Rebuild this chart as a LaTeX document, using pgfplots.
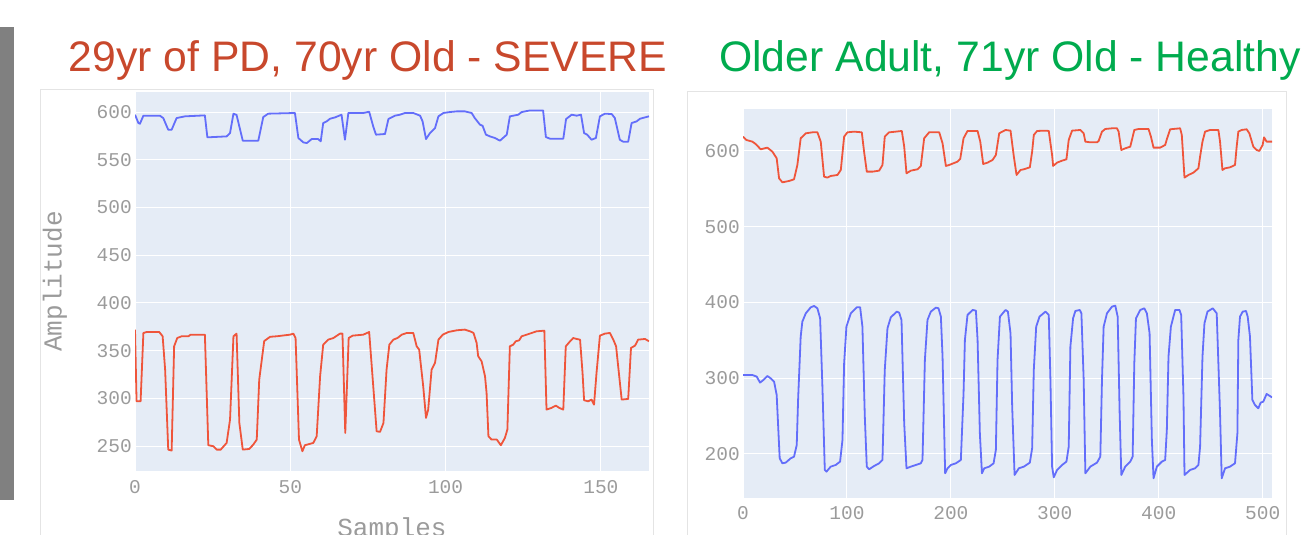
\documentclass[border=0pt]{standalone}
\usepackage{pgfplots}
\pgfplotsset{compat=1.18}
\usepackage{fontspec}
\setmainfont{Liberation Sans}
\newfontfamily\monofont{Liberation Mono}
\definecolor{plotbg}{HTML}{E5ECF6}
\definecolor{pblue}{HTML}{636EFA}
\definecolor{pred}{HTML}{EF553B}
\definecolor{tickgray}{RGB}{155,155,155}
\definecolor{paneledge}{RGB}{228,228,228}
\definecolor{titlered}{RGB}{200,72,44}
\definecolor{titlegreen}{RGB}{0,171,78}
\definecolor{barGray}{RGB}{128,128,128}
\pgfplotsset{
  plotlyaxis/.style={
    scale only axis,
    axis background/.style={fill=plotbg},
    axis line style={draw=none},
    tick style={draw=none},
    grid=major,
    major grid style={white, line width=1pt},
    /pgf/number format/assume math mode=true,
    /pgf/number format/1000 sep={},
    ticklabel style={font=\monofont\fontsize{19.5pt}{22pt}\selectfont, text=tickgray, inner sep=0pt},
    yticklabel style={anchor=east, xshift=-3pt},
    xticklabel style={anchor=north, yshift=-9pt},
    every axis plot/.append style={line width=1.8pt, line join=round},
  }
}
\begin{document}
\begin{tikzpicture}
\useasboundingbox (0pt,0pt) rectangle (1306pt,535pt);
% gray bar at the left edge
\fill[barGray] (0pt,35pt) rectangle (14pt,508pt);
% panel frames
\draw[paneledge, line width=1pt] (40pt,-10pt) rectangle (653pt,445pt);
\draw[paneledge, line width=1pt] (687pt,-10pt) rectangle (1286pt,443pt);
% titles
\node[anchor=base, text=titlered, font=\fontsize{42.7pt}{48pt}\selectfont, inner sep=0pt] at (368pt,463pt) {29yr of PD, 70yr Old - SEVERE};
\node[anchor=base, text=titlegreen, font=\fontsize{42.7pt}{48pt}\selectfont, inner sep=0pt] at (1010pt,463pt) {Older Adult, 71yr Old - Healthy};
% axis titles of the left chart
\node[rotate=90, text=tickgray, font=\monofont\fontsize{26pt}{28pt}\selectfont, inner sep=0pt] at (55pt,253.5pt) {Amplitude};
\node[anchor=base, text=tickgray, font=\monofont\fontsize{26pt}{28pt}\selectfont, inner sep=0pt] at (392pt,-1.5pt) {Samples};

% ---------- left chart ----------
\begin{axis}[plotlyaxis,
  at={(135pt,64pt)}, anchor=south west,
  width=514pt, height=379pt,
  xmin=0, xmax=165.5, ymin=224, ymax=621,
  xtick={0,50,100,150}, ytick={250,300,350,400,450,500,550,600},
]
\addplot[pblue] coordinates {
(0,597.2)(1.1,588.5)(1.6,587.8)(2.7,596.2)(8.0,596.2)(9.1,593.7)(10.7,581.5)(11.8,581.5)(13.4,593.7)(16.1,595.5)(22.5,596.5)(23.3,573.5)(29.5,574.5)(30.6,578)(31.7,598.3)(32.7,597)(34.7,570)(39.7,570)(41.3,594.8)(42.9,598.3)(51.5,599)(52.6,572.8)(54.2,568.2)(55.3,567.5)(56.9,571.7)(59.0,571.7)(59.8,569.3)(60.6,588.5)(61.7,590.2)(62.8,593)(64.4,594.4)(66.5,597.2)(67.6,571)(68.7,599)(73.5,599)(75.4,600.3)(76.7,585)(77.6,576.3)(80.5,577)(81.6,592.7)(83.7,596.2)(85.3,597.2)(86.9,599)(89.6,599)(91.8,596.2)(92.6,590.2)(93.7,571.7)(95.0,578)(96.6,583.2)(97.7,595.5)(99.3,599)(101.4,600)(103.6,600.7)(106.2,600.7)(108.4,599)(109.4,593.7)(111.1,586.7)(111.9,585.7)(113.0,576.3)(114.3,574.5)(115.9,572.8)(117.5,570)(119.7,576.3)(120.7,595.5)(123.4,597.2)(124.5,600)(127.2,601.7)(131.4,601.7)(132.3,573.8)(133.6,572.1)(137.9,572.1)(138.8,592.7)(140.6,597.2)(142.2,596.2)(143.6,597.2)(144.6,578)(145.6,576.3)(147.0,571)(148.4,572.8)(149.7,595.5)(151.3,598.3)(153.5,597.9)(154.5,593.7)(156.1,571)(157.2,568.9)(158.8,568.9)(159.9,588.5)(161.5,590.2)(162.6,593)(164.2,594.4)(165.5,595.5)
};
\addplot[pred] coordinates {
(0,372.1)(0.5,297)(1.8,297)(2.7,368.6)(3.8,369.6)(7.8,369.6)(8.9,365.1)(9.7,330.2)(10.7,246.4)(11.8,245.4)(12.6,354.6)(13.6,363.3)(15.0,365.1)(17.2,365.1)(17.9,366.8)(22.5,366.8)(23.6,251)(25.2,250)(26.3,246.4)(27.6,246.4)(29.5,253.4)(30.6,277.8)(31.7,365.1)(32.7,367.9)(33.6,274.3)(34.7,246.4)(36.8,247.1)(38.1,251.7)(39.2,256.9)(40.0,319.7)(41.6,360.1)(43.5,364.6)(45.6,365.1)(49.9,366.8)(51.0,367.9)(51.7,363.3)(52.8,256.9)(53.9,244.7)(54.7,251)(57.4,253.4)(58.5,260.4)(59.6,323.2)(60.6,356.4)(62.2,361.6)(63.9,363.3)(66.0,367.9)(66.8,367.9)(67.7,263.9)(68.8,363.3)(70.1,365.8)(73.5,366.8)(75.4,369.6)(77.8,265.6)(78.9,265)(80.0,274.3)(81.0,330.2)(81.9,356.4)(83.2,361.6)(84.5,363.3)(85.9,366.8)(87.5,368.6)(89.6,368.6)(90.7,354.6)(91.5,351.1)(92.8,312.7)(93.7,279.6)(94.4,288.3)(95.5,330.2)(96.6,337.2)(97.7,361.6)(99.1,366.8)(100.9,369.6)(103.6,371.4)(106.2,372.1)(107.9,370.3)(109.0,368.6)(110.0,358.1)(110.5,344.2)(111.6,338.9)(112.7,323.2)(113.2,305.8)(113.8,260.4)(114.8,256.9)(116.5,256.9)(117.8,251)(119.1,258.6)(119.9,267.4)(120.7,354.6)(121.8,356.4)(122.6,359.9)(123.7,360.9)(124.5,365.1)(126.1,366.8)(129.3,370.3)(131.8,371)(132.5,288.3)(134.1,290.1)(135.5,292.5)(136.6,290.1)(137.9,288.3)(138.7,354.6)(140.1,359.9)(141.1,363.3)(142.2,362.3)(143.3,361.6)(144.1,326.7)(144.6,298.1)(145.9,297)(147.0,298.8)(147.8,293.5)(148.6,326.7)(149.7,365.8)(151.3,367.9)(152.9,368.6)(154.0,361.6)(154.9,354.6)(156.7,298.8)(158.8,299.5)(159.7,352.9)(161.0,355.3)(162.0,361.6)(164.2,362.3)(165.5,359.9)
};
\end{axis}

% ---------- right chart ----------
\begin{axis}[plotlyaxis,
  at={(743pt,37.3pt)}, anchor=south west,
  width=529pt, height=388.7pt,
  xmin=0, xmax=509, ymin=142.3, ymax=655.4,
  xtick={0,100,200,300,400,500}, ytick={200,300,400,500,600},
]
\addplot[pred] coordinates {
(0,618.9)(3.2,614.5)(9.0,612.3)(12.2,609.2)(17.0,602.2)(23.4,604.4)(28.3,599.1)(32.4,590.3)(34.7,563.9)(37.9,558.6)(44.3,560.4)(49.1,562.6)(52.3,581.5)(55.5,616.7)(60.4,623.3)(66.8,624.6)(71.6,624.6)(74.8,612.3)(78.0,566.1)(81.2,564.8)(84.4,567.0)(90.9,568.3)(94.1,574.9)(97.3,618.9)(100.5,624.6)(106.9,625.5)(114.3,624.6)(116.5,599.1)(119.1,572.7)(124.6,572.7)(131.0,574.0)(134.2,581.5)(136.4,618.9)(140.6,624.6)(147.0,625.5)(152.8,626.4)(155.1,605.7)(157.3,570.5)(161.5,574.0)(167.9,575.8)(171.1,580.2)(174.3,616.7)(179.1,624.6)(188.8,624.6)(192.0,610.1)(195.2,580.2)(198.4,581.5)(206.4,585.9)(209.0,589.4)(212.2,616.7)(216.0,626.4)(225.7,626.4)(228.3,612.3)(231.1,582.8)(235.3,584.6)(240.1,588.1)(243.3,594.7)(246.5,623.3)(252.6,627.7)(257.4,626.8)(260.6,592.5)(263.2,568.3)(267.0,574.9)(270.2,575.8)(276.0,578.4)(278.2,599.1)(279.8,621.1)(283.0,626.4)(291.0,626.8)(294.2,626.4)(297.4,594.7)(298.4,580.2)(302.2,584.6)(307.0,587.2)(311.2,589.0)(313.4,614.5)(316.6,626.8)(324.6,627.7)(327.8,623.3)(329.4,612.3)(334.2,611.4)(340.6,611.4)(342.2,613.2)(345.4,625.5)(348.6,629.0)(355.0,629.9)(359.8,629.9)(361.4,625.5)(364.0,601.3)(367.8,603.5)(372.6,605.7)(374.2,614.5)(376.5,627.7)(380.6,629.0)(390.2,629.0)(392.5,618.9)(395.0,604.4)(401.4,604.4)(406.2,607.9)(407.8,615.4)(411.0,628.6)(420.6,629.9)(422.2,621.1)(424.8,564.8)(428.6,568.3)(433.4,571.4)(438.2,577.1)(439.8,592.5)(442.1,612.3)(444.6,625.5)(449.4,627.7)(457.4,627.7)(459.0,612.3)(461.3,574.9)(463.8,577.1)(468.6,578.4)(473.4,581.5)(475.0,605.7)(476.6,625.5)(479.8,627.7)(484.6,628.6)(487.2,623.3)(491.0,605.7)(494.2,601.3)(496.8,600.0)(500.0,607.9)(501.3,618.0)(503.8,612.3)(509.0,612.3)
};
\addplot[pblue] coordinates {
(0,304.3)(9.0,304.3)(13.2,302.1)(16.4,294.2)(19.6,297.7)(23.4,303.0)(26.6,299.9)(29.9,295.5)(32.4,277.9)(34.0,231.7)(35.3,194.3)(37.9,187.7)(41.1,188.6)(45.9,194.3)(49.1,196.5)(51.7,211.9)(53.0,271.3)(55.5,354.9)(57.1,374.7)(60.4,385.7)(65.2,393.6)(68.4,395.4)(71.6,392.3)(74.2,379.1)(76.4,288.9)(78.7,178.9)(80.3,176.7)(84.4,183.3)(89.2,185.5)(93.4,189.9)(95.7,218.5)(97.3,319.7)(99.5,368.1)(103.7,385.7)(109.5,393.6)(112.7,393.6)(114.9,368.1)(117.2,249.3)(119.1,183.3)(121.3,179.8)(126.2,184.2)(131.0,187.7)(134.2,192.1)(136.4,310.9)(139.0,365.9)(142.2,380.4)(148.0,387.9)(150.2,386.6)(152.5,376.9)(155.1,240.5)(157.3,181.1)(161.5,183.3)(166.3,185.5)(171.1,187.7)(172.7,192.1)(175.0,324.1)(177.5,376.9)(180.7,387.9)(185.6,393.2)(188.1,392.3)(190.4,381.3)(192.0,328.5)(194.5,174.5)(196.8,181.1)(200.0,185.5)(204.8,187.7)(209.6,192.1)(212.2,280.1)(213.5,350.5)(216.0,383.5)(220.9,390.1)(224.1,389.2)(225.7,350.5)(227.9,227.3)(229.9,174.5)(232.1,181.1)(236.9,183.3)(241.1,187.7)(243.3,205.3)(244.9,324.1)(247.2,381.3)(252.6,390.1)(254.9,387.9)(257.4,359.3)(259.0,262.5)(261.3,172.3)(265.4,181.1)(270.2,183.3)(276.0,188.6)(278.2,207.5)(279.8,310.9)(282.1,368.1)(285.3,381.3)(291.0,387.9)(294.2,383.5)(295.8,297.7)(297.4,183.3)(299.0,169.2)(302.2,178.9)(307.0,185.5)(311.2,189.9)(313.4,209.7)(315.0,341.7)(317.6,379.1)(319.8,388.8)(324.0,390.1)(325.6,385.7)(327.8,297.7)(329.4,174.5)(334.2,183.3)(340.6,188.6)(343.8,196.5)(345.4,297.7)(347.0,368.1)(350.2,385.7)(355.0,394.5)(358.2,395.8)(360.5,381.3)(362.4,253.7)(364.0,172.3)(367.8,183.3)(372.6,189.9)(374.9,196.5)(376.5,319.7)(378.1,379.1)(382.2,390.1)(386.1,392.3)(388.6,385.7)(391.2,359.3)(393.4,218.5)(395.0,167.9)(398.2,183.3)(403.0,189.9)(406.2,192.1)(407.8,231.7)(409.4,328.5)(411.7,368.1)(415.8,390.1)(420.0,390.1)(421.6,383.5)(423.8,275.7)(424.8,172.3)(430.2,178.9)(435.0,181.1)(438.2,185.5)(439.8,209.7)(442.1,328.5)(444.0,372.5)(446.9,387.9)(452.0,392.3)(455.8,385.7)(459.0,253.7)(460.6,167.9)(463.8,181.1)(468.6,183.3)(473.4,187.7)(475.7,227.3)(476.6,350.5)(478.2,381.3)(480.8,387.9)(484.0,388.8)(485.6,381.3)(487.8,354.9)(490.1,271.3)(492.6,264.7)(495.8,260.3)(498.1,267.8)(500.6,269.1)(503.8,279.2)(509.0,274.8)
};
\end{axis}
\end{tikzpicture}
\end{document}
